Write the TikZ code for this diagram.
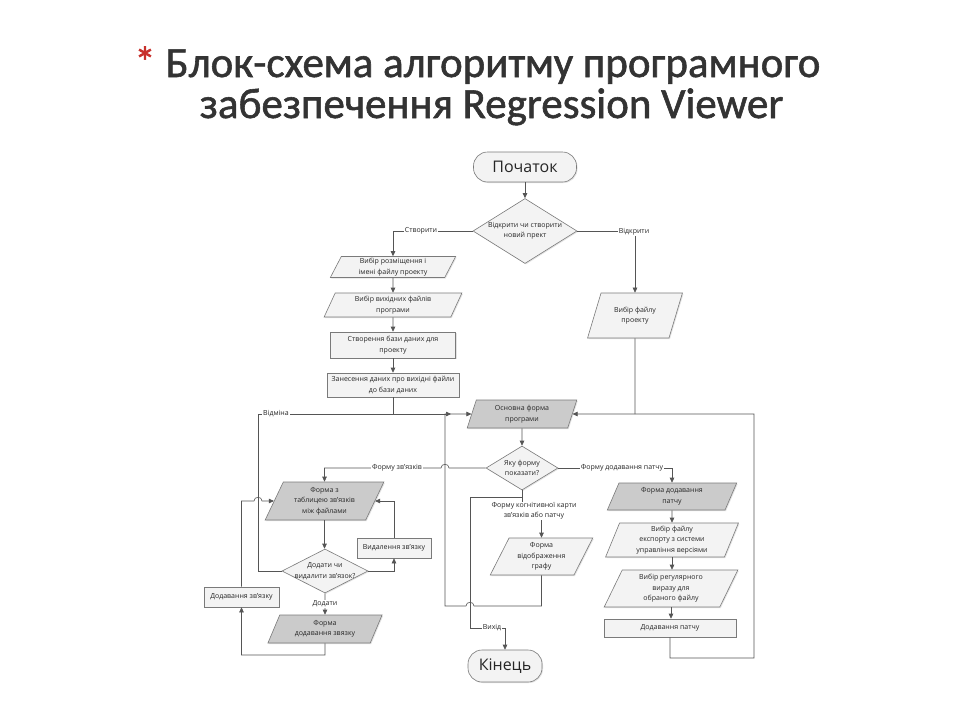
\documentclass[tikz,border=0pt]{standalone}
\usepackage{fontspec}
\setmainfont{Open Sans}
\newfontfamily\titlefont[RawFeature={embolden=1.3}]{Carlito}
\usetikzlibrary{shapes.geometric,arrows.meta,shadows}
\definecolor{ln}{HTML}{555555}
\definecolor{bd}{HTML}{7A7A7A}
\definecolor{lightf}{HTML}{F3F3F3}
\definecolor{darkf}{HTML}{CBCBCB}
\definecolor{ttl}{HTML}{333333}
\definecolor{star}{HTML}{C8302C}
\begin{document}
\begin{tikzpicture}[x=1pt,y=-1pt,
 every node/.style={text=black!85},
 sm/.style={font=\fontsize{7}{10.5}\selectfont, align=center},
 box/.style={draw=bd, line width=0.6pt, sm, inner sep=1pt, drop shadow={shadow xshift=1pt,shadow yshift=-1pt,opacity=0.22}},
 rbox/.style={box, rectangle, fill=lightf},
 para/.style={box, trapezium, trapezium left angle=#1, trapezium right angle=180-#1, trapezium stretches=true},
 lp/.style={fill=lightf},
 dp/.style={fill=darkf},
 dec/.style={box, diamond, fill=lightf, inner sep=0pt},
 term/.style={box, rectangle, rounded corners=14pt, fill=lightf, font=\fontsize{16}{18}\selectfont},
 conn/.style={draw=ln, line width=0.6pt},
 arr/.style={conn, -{Triangle[length=5pt,width=4.5pt]}},
 lbl/.style={fill=white, inner sep=1pt, font=\fontsize{7}{9.5}\selectfont, align=center},
 ttlstyle/.style={font=\titlefont\fontsize{43}{50}\selectfont, text=ttl, anchor=base},
]
\fill[white] (0,0) rectangle (960,720);
\useasboundingbox (0,0) rectangle (960,720);

% title
\node[ttlstyle] (t1) at (493,77) {Блок-схема алгоритму програмного};
\node[ttlstyle] (t2) at (491.5,118) {забезпечення Regression Viewer};
\node[ttlstyle, text=star] (ast) at (145,77) {*};

% nodes
\node[term, minimum width=103, minimum height=30] (start) at (525,167) {Початок};
\node[dec, minimum width=104, minimum height=65] (d1) at (525,231) {};
\node[sm] (d1t) at (d1) {Відкрити чи створити\\новий прект};
\node[para=69, lp, minimum width=126, minimum height=21] (p1) at (393,267) {Вибір розміщення і\\імені файлу проекту};
\node[para=69, lp, minimum width=138, minimum height=24] (p2) at (393,305) {Вибір вихідних файлів\\програми};
\node[rbox, minimum width=125, minimum height=26] (r1) at (393,345) {Створення бази даних для\\проекту};
\node[rbox, minimum width=132, minimum height=24] (r2) at (393,385) {Занесення даних про вихідні файли\\до бази даних};
\node[para=66, lp, minimum width=95, minimum height=45] (vp) at (635,315.5) {Вибір файлу\\проекту};
\node[para=74, dp, minimum width=110, minimum height=28] (mf) at (522,414) {Основна форма\\програми};
\node[dec, minimum width=72, minimum height=44] (d2) at (522,468) {};
\node[sm] (d2t) at (d2) {Яку форму\\показати?};
\node[para=65, dp, minimum width=119, minimum height=38] (f2) at (324.5,501) {Форма з\\таблицею зв’язків\\між файлами};
\node[rbox, minimum width=74, minimum height=20] (vz) at (394,548) {Видалення зв’язку};
\node[dec, minimum width=86, minimum height=44] (d3) at (325,571) {};
\node[sm] (d3t) at (d3) {Додати чи\\видалити зв’язок?};
\node[para=67, dp, minimum width=115, minimum height=28] (f3) at (325,629) {Форма\\додавання звязку};
\node[rbox, minimum width=75, minimum height=20] (dz) at (241.5,597) {Додавання зв’язку};
\node[para=64, lp, minimum width=103, minimum height=37] (f4) at (541.5,556.5) {Форма\\відображення\\графу};
\node[para=70, dp, minimum width=130, minimum height=27] (f5) at (672,496.5) {Форма додавання\\патчу};
\node[para=72, lp, minimum width=134, minimum height=34] (f6) at (672,540) {Вибір файлу\\експорту з системи\\управління версіями};
\node[para=68, lp, minimum width=134, minimum height=37] (f7) at (671,588.5) {Вибір регулярного\\виразу для\\обраного файлу};
\node[rbox, minimum width=132, minimum height=18] (r3) at (670,628) {Додавання патчу};
\node[term, minimum width=74, minimum height=32] (end) at (505,666) {Кінець};

% connectors
\draw[arr] (start.south) -- (d1.north);
\draw[arr] (d1.west) -| (p1.north);
\draw[arr] (d1.east) -| (vp.north);
\draw[arr] (p1.south) -- (p2.north);
\draw[arr] (p2.south) -- (r1.north);
\draw[arr] (r1.south) -- (r2.north);
\draw[conn] (r2.south) -- (393,414);
\draw[arr] (d3.west) -| (258,414) -- (451,414);
\draw[arr] (f4.south) -- (541.5,606) -- (474,606) .. controls (474,601) and (466,601) .. (466,606) -- (445,606) -- (445,414) -- (mf.west);
\draw[arr] (r3.south) -- (670,658) -- (754,658) -- (754,414) -- (mf.east);
\draw[conn] (vp.south) -- (635,414);
\draw[arr] (mf.south) -- (d2.north);
\draw[arr] (d2.west) -- (449,468) .. controls (449,463) and (441,463) .. (441,468) -- (324.5,468) -- (f2.north);
\draw[arr] (d2.east) -| (f5.north);
\draw[arr] (d2.south) -- (522,511) -| (f4.north);
\draw[arr] (522,497) -- (470,497) -- (470,628) -- (505,628) -- (end.north);
\draw[arr] (f5.south) -- (f6.north);
\draw[arr] (f6.south) -- (f6.south |- f7.north);
\draw[arr] (f7.south) -- (f7.south |- r3.north);
\draw[arr] (f2.south) -- (f2.south |- d3.north);
\draw[arr] (d3.east) -| (vz.south);
\draw[arr] (vz.north) |- (f2.east);
\draw[arr] (d3.south) -- (f3.north);
\draw[arr] (f3.south) -- (325,655) -| (dz.south);
\draw[arr] (dz.north) -- (241.5,501) -- (254,501) .. controls (254,496) and (262,496) .. (262,501) -- (f2.west);

% labels on connectors
\node[lbl] (l1) at (421,231) {Створити};
\node[lbl] (l2) at (634,232) {Відкрити};
\node[lbl] (l3) at (276,414) {Відміна};
\node[lbl] (l4) at (397,468) {Форму зв’язків};
\node[lbl] (l5) at (622,468) {Форму додавання патчу};
\node[lbl] (l6) at (534,511) {Форму когнітивної карти\\зв’язків або патчу};
\node[lbl] (l7) at (492,628) {Вихід};
\node[lbl] (l8) at (325,604) {Додати};
\end{tikzpicture}
\end{document}
